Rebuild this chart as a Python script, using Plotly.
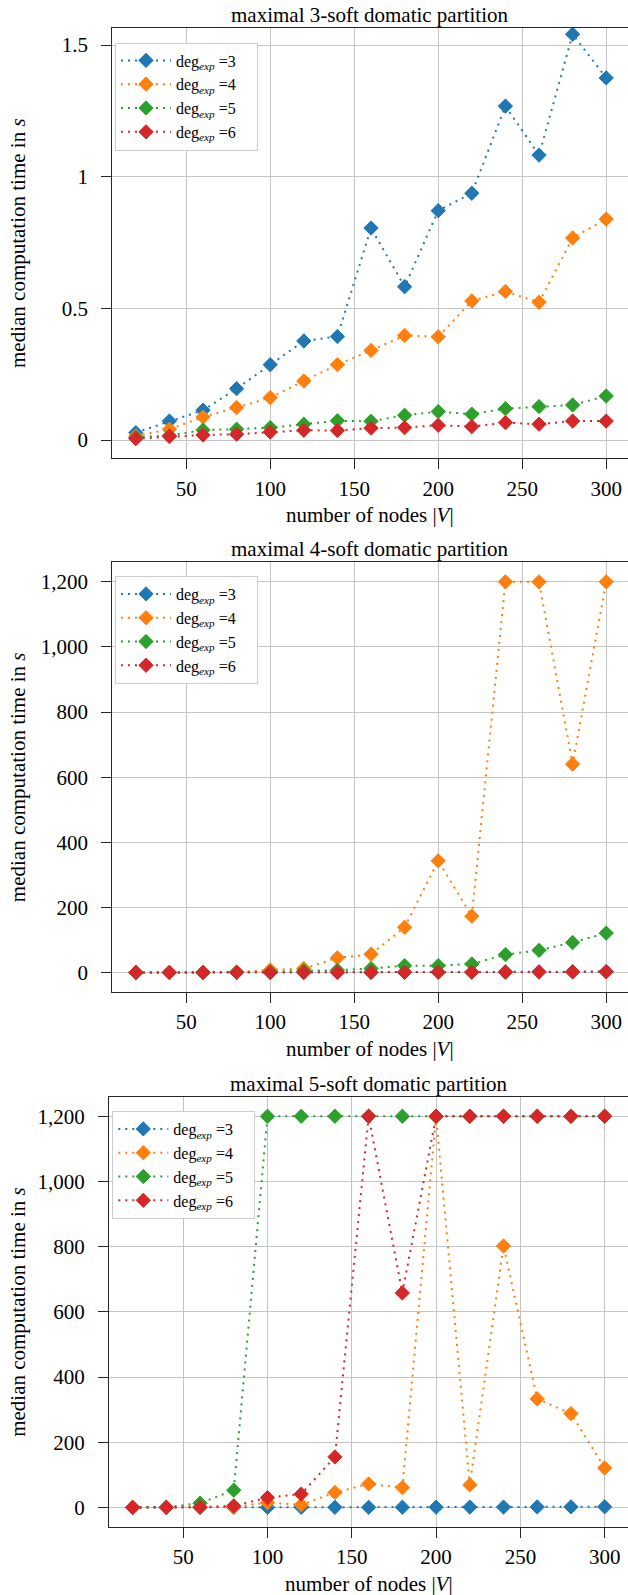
import plotly.graph_objects as go

W, H = 628, 1595

nodes = [20, 40, 60, 80, 100, 120, 140, 160, 180, 200, 220, 240, 260, 280, 300]
PAD = "&nbsp;" * 4
series_names = ["deg<sub><i>exp</i></sub> =3" + PAD, "deg<sub><i>exp</i></sub> =4" + PAD,
                "deg<sub><i>exp</i></sub> =5" + PAD, "deg<sub><i>exp</i></sub> =6" + PAD]
colors = ["#1f77b4", "#ff7f0e", "#2ca02c", "#d62728"]

# panel 1: maximal 3-soft domatic partition
p1_deg3 = [0.028, 0.072, 0.113, 0.195, 0.286, 0.376, 0.393, 0.805, 0.582, 0.871, 0.937, 1.268, 1.082, 1.541, 1.375]
p1_deg4 = [0.015, 0.041, 0.087, 0.123, 0.161, 0.224, 0.286, 0.340, 0.397, 0.392, 0.528, 0.564, 0.523, 0.767, 0.839]
p1_deg5 = [0.010, 0.017, 0.038, 0.041, 0.047, 0.060, 0.073, 0.071, 0.094, 0.108, 0.098, 0.119, 0.127, 0.133, 0.167]
p1_deg6 = [0.005, 0.013, 0.019, 0.022, 0.030, 0.037, 0.036, 0.045, 0.047, 0.056, 0.051, 0.066, 0.060, 0.072, 0.072]

# panel 2: maximal 4-soft domatic partition
p2_deg3 = [0.0, 0.0, 0.1, 0.1, 0.2, 0.3, 0.4, 0.6, 0.8, 1.0, 1.2, 1.8, 2.0, 2.5, 3.0]
p2_deg4 = [0.0, 0.1, 0.3, 1.0, 8, 12, 45, 56, 139, 343, 173, 1200, 1200, 640, 1200]
p2_deg5 = [0.0, 0.0, 0.1, 0.5, 1.5, 5, 7, 12, 21, 21, 26, 55, 68, 92, 121]
p2_deg6 = [0.0, 0.0, 0.1, 0.1, 0.2, 0.3, 0.4, 0.5, 0.6, 0.8, 0.9, 1.2, 1.4, 1.8, 2.0]

# panel 3: maximal 5-soft domatic partition
p3_deg3 = [0.0, 0.0, 0.1, 0.1, 0.2, 0.3, 0.4, 0.5, 0.6, 0.8, 1.0, 1.2, 1.5, 1.8, 2.0]
p3_deg4 = [0.0, 0.3, 1.0, 2.0, 15, 8, 46, 72, 61, 1200, 69, 802, 333, 288, 121]
p3_deg5 = [0.0, 0.5, 13, 53, 1200, 1200, 1200, 1200, 1200, 1200, 1200, 1200, 1200, 1200, 1200]
p3_deg6 = [0.0, 0.2, 1.0, 5, 30, 41, 155, 1200, 658, 1200, 1200, 1200, 1200, 1200, 1200]

titles = ["maximal 3-soft domatic partition", "maximal 4-soft domatic partition",
          "maximal 5-soft domatic partition"]
x_title = "number of nodes |<i>V</i>|"
y_title = "median computation time in <i>s</i>"

x_tickvals = [50, 100, 150, 200, 250, 300]
x_ticktext = ["50", "100", "150", "200", "250", "300"]
y1_tickvals = [0, 0.5, 1, 1.5]
y1_ticktext = ["0", "0.5", "1", "1.5"]
y23_tickvals = [0, 200, 400, 600, 800, 1000, 1200]
y23_ticktext = ["0", "200", "400", "600", "800", "1,000", "1,200"]

panels = [
    [p1_deg3, p1_deg4, p1_deg5, p1_deg6],
    [p2_deg3, p2_deg4, p2_deg5, p2_deg6],
    [p3_deg3, p3_deg4, p3_deg5, p3_deg6],
]

# layout geometry in page pixels
boxes = [  # (left, top, bottom)
    (112.3, 27.7, 458.3),
    (112.3, 562.3, 992.0),
    (109.0, 1096.7, 1527.0),
]
px_per_unit = [1.68, 1.68, 1.686]
yranges = [[-0.0695, 1.5657], [-60, 1260], [-60, 1260]]
legend_pos = [(115.0, 42.5), (115.0, 576.0), (112.3, 1111.0)]

FONT = "Liberation Serif"


def fx(px):
    return px / W


def fy(py):
    return 1 - py / H


fig = go.Figure()
for p, data in enumerate(panels):
    sfx = "" if p == 0 else str(p + 1)
    for k, vals in enumerate(data):
        fig.add_trace(go.Scatter(
            x=nodes, y=vals, name=series_names[k], mode="lines+markers",
            xaxis="x" + sfx, yaxis="y" + sfx,
            legend="legend" + sfx,
            line=dict(color=colors[k], width=2, dash="2px,5px"),
            marker=dict(symbol="diamond", size=11, color=colors[k],
                        line=dict(width=1, color=colors[k])),
        ))

layout = dict(
    width=W, height=H,
    margin=dict(l=0, r=0, t=0, b=0),
    paper_bgcolor="white", plot_bgcolor="white",
    font=dict(family=FONT, size=21, color="black"),
    showlegend=True,
)
annotations = []
for p in range(3):
    sfx = "" if p == 0 else str(p + 1)
    left, top, bottom = boxes[p]
    xd = [fx(left), 1.0]
    yd = [fy(bottom), fy(top)]
    xr = [6, 6 + (W - left) / px_per_unit[p]]
    common = dict(showgrid=True, gridcolor="#c4c4c4", gridwidth=1,
                  showline=True, linecolor="#262626", linewidth=1.2, mirror=True,
                  ticks="outside", ticklen=10, tickwidth=1.2, tickcolor="#262626",
                  zeroline=False, tickfont=dict(family=FONT, size=21, color="black"))
    layout["xaxis" + sfx] = dict(domain=xd, range=xr, anchor="y" + sfx,
                                 tickvals=x_tickvals, ticktext=x_ticktext,
                                 ticklabelstandoff=1, **common)
    yt = (y1_tickvals, y1_ticktext) if p == 0 else (y23_tickvals, y23_ticktext)
    layout["yaxis" + sfx] = dict(domain=yd, range=yranges[p], anchor="x" + sfx,
                                 tickvals=yt[0], ticktext=yt[1],
                                 ticklabelstandoff=9, **common)
    lx, ly = legend_pos[p]
    layout["legend" + sfx] = dict(
        x=fx(lx), y=fy(ly), xanchor="left", yanchor="top",
        bgcolor="white", bordercolor="#cccccc", borderwidth=1,
        font=dict(family=FONT, size=16, color="black"),
        itemwidth=50, tracegroupgap=0,
    )
    cx = (fx(left) + 1.0) / 2
    annotations.append(dict(text=titles[p], x=cx, y=fy(top - 13),
                            xref="paper", yref="paper", showarrow=False,
                            xanchor="center", yanchor="middle",
                            font=dict(family=FONT, size=21, color="black")))
    annotations.append(dict(text=x_title, x=cx, y=fy(bottom + 57),
                            xref="paper", yref="paper", showarrow=False,
                            xanchor="center", yanchor="middle",
                            font=dict(family=FONT, size=21, color="black")))
    annotations.append(dict(text=y_title, x=fx(18), y=fy((top + bottom) / 2),
                            xref="paper", yref="paper", showarrow=False, textangle=-90,
                            xanchor="center", yanchor="middle",
                            font=dict(family=FONT, size=21, color="black")))
layout["annotations"] = annotations
fig.update_layout(**layout)
# remove the default 8px page margin so the figure fills the window exactly
fig.write_html("out.html",
               config={"displayModeBar": False},
               post_script="document.body.style.margin='0px';document.body.style.overflow='hidden';")
